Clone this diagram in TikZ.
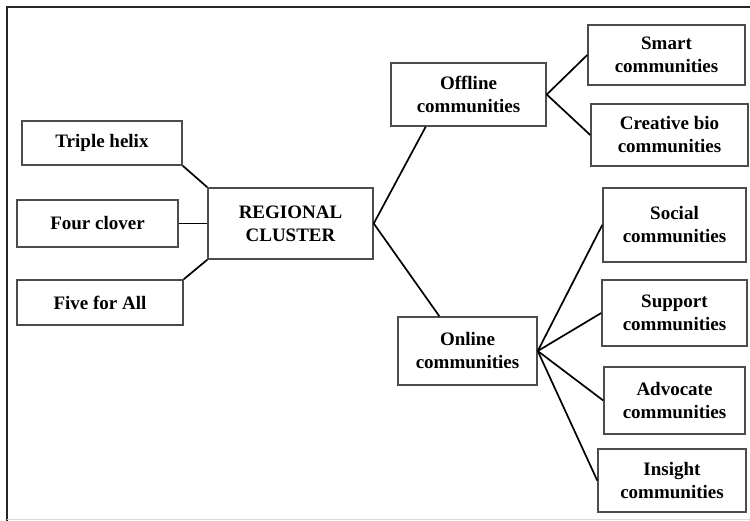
\documentclass[tikz,border=0pt]{standalone}
\usepackage{fontspec}
\setmainfont{Liberation Serif}
\usetikzlibrary{positioning}

\begin{document}
\begin{tikzpicture}[x=1pt, y=-1pt]

\tikzset{box/.style 2 args={
    draw=black!70,
    line width=1.5pt,
    minimum width=#1,
    minimum height=#2,
    align=center,
    inner sep=0pt,
    font=\fontsize{19}{23}\selectfont\bfseries
  },
  link/.style={line width=1.7pt, black}
}

\useasboundingbox (0,0) rectangle (750,521);

% frame
\draw[line width=2.6pt, black!85] (7,521) -- (7,7) -- (752,7);
\draw[line width=1pt, black!15] (7,519) -- (752,519);

% left side
\node[box={160}{44}] (tri) at (102,143) {Triple helix};
\node[box={161}{47}] (four) at (97.5,223.5) {Four clover};
\node[box={166}{45}] (five) at (100,302.5) {Five for All};

\node[box={165}{71}] (reg) at (290.5,223.5) {REGIONAL\\CLUSTER};

% middle
\node[box={155}{63}] (off) at (468.5,94.5) {Offline\\communities};
\node[box={139}{68}] (on) at (467.5,351) {Online\\communities};

% right side
\node[box={157}{60}] (smart) at (666.5,55) {Smart\\communities};
\node[box={157}{62}] (bio) at (669.5,135) {Creative bio\\communities};
\node[box={143}{74}] (soc) at (674.5,225) {Social\\communities};
\node[box={145}{66}] (sup) at (674.5,313) {Support\\communities};
\node[box={141}{67}] (adv) at (674.5,400.5) {Advocate\\communities};
\node[box={148}{63}] (ins) at (672,480.5) {Insight\\communities};

\draw[link] (tri.south east) -- (reg.north west);
\draw[link] (four.east) -- (four.east -| reg.west);
\draw[link] (five.north east) -- (reg.south west);

\draw[link] (off.217) -- (reg.east) -- (on.129);

\draw[link] (smart.west) -- (off.east) -- (bio.west);

\draw[link] (on.east) -- (soc.west);
\draw[link] (on.east) -- (sup.west);
\draw[link] (on.east) -- (adv.west);
\draw[link] (on.east) -- (ins.west);

\end{tikzpicture}
\end{document}
